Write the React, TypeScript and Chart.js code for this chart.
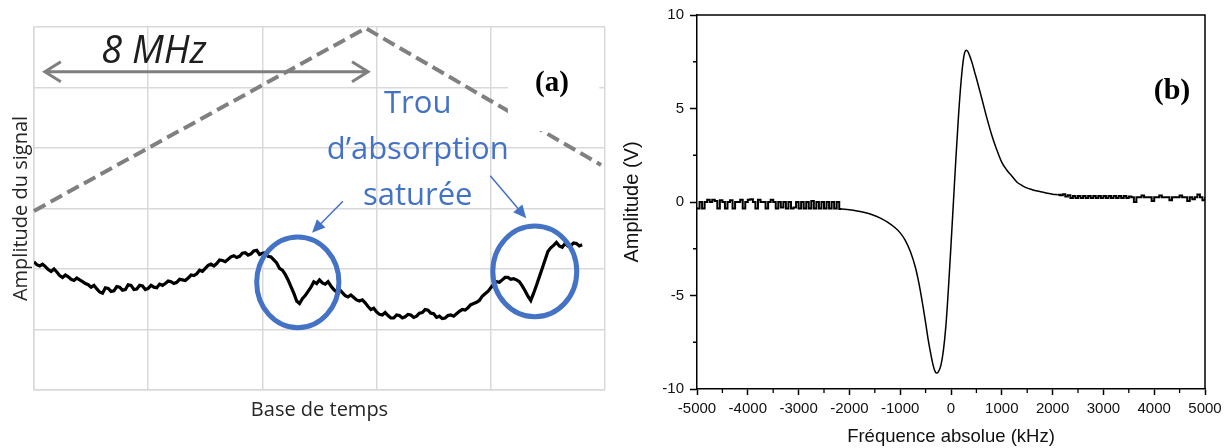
import React, { useEffect, useRef } from "react";
import { Chart, registerables } from "chart.js";

Chart.register(...registerables);

// ================= Panel (a) : oscilloscope trace (Excel style) =================
const aXRange = [0, 10];
const aYRange = [0, 6];
const aXStep = 2;
const aYStep = 1;

// noisy detected signal (time base units, amplitude units)
const aSignal: [number, number][] = [
  [0.0, 2.12], [0.05, 2.07], [0.1, 2.05], [0.15, 2.08], [0.2, 2.04], [0.25, 1.99], [0.3, 1.96],
  [0.35, 2.0], [0.4, 1.95], [0.45, 1.89], [0.5, 1.86], [0.55, 1.9], [0.6, 1.87], [0.65, 1.83],
  [0.7, 1.81], [0.75, 1.85], [0.8, 1.82], [0.85, 1.79], [0.9, 1.76], [0.95, 1.74], [1.0, 1.7],
  [1.05, 1.73], [1.1, 1.67], [1.15, 1.62], [1.2, 1.6], [1.25, 1.69], [1.3, 1.68], [1.35, 1.63],
  [1.4, 1.64], [1.45, 1.71], [1.5, 1.7], [1.55, 1.65], [1.6, 1.66], [1.65, 1.74], [1.7, 1.73],
  [1.75, 1.66], [1.8, 1.67], [1.85, 1.73], [1.9, 1.72], [1.95, 1.66], [2.0, 1.68], [2.05, 1.73],
  [2.1, 1.7], [2.15, 1.69], [2.2, 1.75], [2.25, 1.73], [2.3, 1.76], [2.35, 1.8], [2.4, 1.79],
  [2.45, 1.76], [2.5, 1.78], [2.55, 1.83], [2.6, 1.82], [2.65, 1.81], [2.7, 1.85], [2.75, 1.9],
  [2.8, 1.89], [2.85, 1.92], [2.9, 1.98], [2.95, 1.96], [3.0, 2.01], [3.05, 2.06], [3.1, 2.08],
  [3.15, 2.05], [3.2, 2.09], [3.25, 2.15], [3.3, 2.14], [3.35, 2.12], [3.4, 2.16], [3.45, 2.2],
  [3.5, 2.22], [3.55, 2.19], [3.6, 2.21], [3.65, 2.26], [3.7, 2.27], [3.75, 2.23], [3.8, 2.25],
  [3.85, 2.3], [3.9, 2.31], [3.95, 2.24], [4.0, 2.26], [4.05, 2.27], [4.1, 2.21], [4.15, 2.2],
  [4.2, 2.15], [4.25, 2.1], [4.3, 2.01], [4.35, 1.98], [4.4, 1.91], [4.45, 1.82], [4.5, 1.71],
  [4.55, 1.6], [4.6, 1.47], [4.65, 1.43], [4.7, 1.51], [4.75, 1.56], [4.8, 1.63], [4.85, 1.7],
  [4.9, 1.79], [4.95, 1.76], [5.0, 1.82], [5.05, 1.77], [5.1, 1.75], [5.15, 1.79], [5.2, 1.72],
  [5.25, 1.66], [5.3, 1.62], [5.35, 1.66], [5.4, 1.61], [5.45, 1.56], [5.5, 1.54], [5.55, 1.57],
  [5.6, 1.53], [5.65, 1.49], [5.7, 1.47], [5.75, 1.49], [5.8, 1.44], [5.85, 1.38], [5.9, 1.33],
  [5.95, 1.35], [6.0, 1.29], [6.05, 1.25], [6.1, 1.24], [6.15, 1.28], [6.2, 1.23], [6.25, 1.19],
  [6.3, 1.19], [6.35, 1.24], [6.4, 1.23], [6.45, 1.19], [6.5, 1.21], [6.55, 1.25], [6.6, 1.24],
  [6.65, 1.2], [6.7, 1.22], [6.75, 1.27], [6.8, 1.28], [6.85, 1.33], [6.9, 1.32], [6.95, 1.27],
  [7.0, 1.26], [7.05, 1.2], [7.1, 1.22], [7.15, 1.18], [7.2, 1.19], [7.25, 1.23], [7.3, 1.24],
  [7.35, 1.22], [7.4, 1.26], [7.45, 1.3], [7.5, 1.33], [7.55, 1.32], [7.6, 1.36], [7.65, 1.41],
  [7.7, 1.43], [7.75, 1.45], [7.8, 1.48], [7.85, 1.55], [7.9, 1.59], [7.95, 1.63], [8.0, 1.69],
  [8.05, 1.75], [8.1, 1.79], [8.15, 1.78], [8.2, 1.82], [8.25, 1.86], [8.3, 1.86], [8.35, 1.83],
  [8.4, 1.84], [8.45, 1.82], [8.5, 1.79], [8.55, 1.72], [8.6, 1.64], [8.65, 1.55], [8.7, 1.48],
  [8.75, 1.6], [8.8, 1.73], [8.85, 1.87], [8.9, 2.01], [8.95, 2.15], [9.0, 2.29], [9.05, 2.35],
  [9.1, 2.39], [9.15, 2.44], [9.2, 2.38], [9.25, 2.36], [9.3, 2.42], [9.35, 2.38], [9.4, 2.39],
  [9.45, 2.43], [9.5, 2.42], [9.55, 2.38], [9.6, 2.4],
];

// triangular frequency ramp (dashed grey)
const aRamp: [number, number][] = [[0, 2.96], [5.81, 5.98], [9.93, 3.72]];

// annotations (data units)
const aSpanArrow = [0.19, 5.85, 5.26]; // x from, x to, y
const aSpanLabelPos = [2.1, 5.4];
const aSpanLabel = "8 MHz";
const aHoleLabel = ["Trou", "d\u2019absorption", "saturée"];
const aHoleLabelPos = [6.72, 4.58, 0.76]; // x, first baseline, line step
const aHoleArrows: [number, number, number, number][] = [
  [5.41, 3.12, 4.87, 2.6],
  [7.99, 3.54, 8.62, 2.84],
];
const aHoleCircles: [number, number, number, number][] = [
  [4.62, 1.78, 0.72, 0.75],
  [8.77, 1.96, 0.735, 0.75],
];
const aTagBox = [8.3, 9.9, 4.28, 5.45]; // x0, x1, y0, y1
const aTagPos = [9.07, 5.07];
const aYTitle = "Amplitude du signal";
const aXTitle = "Base de temps";

// ================= Panel (b) : dispersion signal =================
const bXRange = [-5000, 5000];
const bYRange = [-10, 10];
const bXStep = 1000;
const bYStep = 5;
const bMinorX = [-4500, -3500, -2500, -1500, -500, 500, 1500, 2500, 3500, 4500];
const bMinorY = [-7.5, -2.5, 2.5, 7.5];

const bNoiseLeft: [number, number][] = [
  [-5000, -0.35], [-4950, 0.0], [-4900, -0.35], [-4850, 0.0], [-4800, 0.12], [-4750, 0.0],
  [-4700, 0.12], [-4650, 0.05], [-4600, -0.35], [-4550, 0.1], [-4500, 0.0], [-4450, -0.35],
  [-4400, 0.0], [-4350, 0.1], [-4300, -0.35], [-4250, 0.0], [-4200, 0.0], [-4150, 0.12],
  [-4100, -0.35], [-4050, 0.0], [-4000, 0.12], [-3950, 0.15], [-3900, 0.0], [-3850, -0.35],
  [-3800, 0.12], [-3750, 0.0], [-3700, 0.0], [-3650, -0.35], [-3600, 0.0], [-3550, 0.12],
  [-3500, 0.0], [-3450, -0.35], [-3400, 0.0], [-3350, -0.3], [-3300, 0.0], [-3250, -0.35],
  [-3200, 0.0], [-3150, -0.35], [-3100, -0.3], [-3050, 0.0], [-3000, -0.35], [-2950, 0.0],
  [-2900, -0.35], [-2850, 0.0], [-2800, -0.35], [-2750, 0.05], [-2700, -0.35], [-2650, 0.0],
  [-2600, -0.35], [-2550, 0.0], [-2500, -0.35], [-2450, 0.0], [-2400, -0.35], [-2350, 0.0],
  [-2300, -0.35], [-2250, 0.0], [-2200, -0.38], [-2150, -0.38],
];

const bCurve: [number, number][] = [
  [-2150, -0.38], [-2000, -0.42], [-1850, -0.48], [-1700, -0.56], [-1550, -0.68], [-1400, -0.85],
  [-1250, -1.08], [-1100, -1.38], [-1000, -1.65], [-900, -2.05], [-800, -2.65], [-700, -3.5],
  [-650, -4.1], [-600, -4.8], [-550, -5.6], [-500, -6.45], [-450, -7.35], [-400, -8.1],
  [-350, -8.75], [-310, -9.08], [-280, -9.15], [-250, -9.08], [-200, -8.75], [-150, -7.95],
  [-100, -6.6], [-50, -4.6], [0, -2.3], [50, 0.1], [100, 2.5], [150, 4.7], [200, 6.5],
  [240, 7.55], [270, 8.0], [300, 8.12], [330, 8.05], [370, 7.8], [420, 7.4], [460, 7.0],
  [500, 6.62], [600, 5.6], [700, 4.55], [800, 3.6], [900, 2.8], [1000, 2.12], [1100, 1.7],
  [1200, 1.38], [1300, 1.06], [1400, 0.88], [1500, 0.74], [1600, 0.66], [1700, 0.59],
  [1800, 0.53], [1900, 0.47], [2000, 0.42], [2100, 0.39],
];

const bNoiseRight: [number, number][] = [
  [2100, 0.39], [2150, 0.36], [2200, 0.42], [2250, 0.3], [2300, 0.36], [2350, 0.22], [2400, 0.32],
  [2450, 0.22], [2500, 0.32], [2550, 0.22], [2600, 0.32], [2650, 0.22], [2700, 0.32], [2750, 0.22],
  [2800, 0.32], [2850, 0.22], [2900, 0.32], [2950, 0.22], [3000, 0.32], [3050, 0.22], [3100, 0.32],
  [3150, 0.22], [3200, 0.32], [3250, 0.22], [3300, 0.32], [3350, 0.22], [3400, 0.32], [3450, 0.22],
  [3500, 0.3], [3550, 0.25], [3600, 0.0], [3650, 0.25], [3700, 0.25], [3750, 0.35], [3800, 0.25],
  [3850, 0.25], [3900, 0.25], [3950, 0.05], [4000, 0.25], [4050, 0.25], [4100, 0.35], [4150, 0.25],
  [4200, 0.25], [4250, 0.25], [4300, 0.1], [4350, 0.25], [4400, 0.25], [4450, 0.25], [4500, 0.35],
  [4550, 0.25], [4600, 0.25], [4650, 0.05], [4700, 0.25], [4750, 0.15], [4800, 0.25], [4850, 0.4],
  [4900, 0.25], [4950, 0.1], [5000, 0.25],
];
const bTagPos = [4350, 5.9];
const bYTitle = "Amplitude (V)";
const bXTitle = "Fréquence absolue (kHz)";

const toXY = (arr: [number, number][]) => arr.map(([x, y]) => ({ x, y }));

const BLUE = "#4472c4";
const SANS_A = '"Open Sans", "Noto Sans", sans-serif';
const SANS_B = '"Liberation Sans", Arial, sans-serif';

function arrowHead(ctx: CanvasRenderingContext2D, x0: number, y0: number, x1: number, y1: number, len: number, half: number) {
  const a = Math.atan2(y1 - y0, x1 - x0);
  ctx.beginPath();
  ctx.moveTo(x1, y1);
  ctx.lineTo(x1 - len * Math.cos(a) + half * Math.sin(a), y1 - len * Math.sin(a) - half * Math.cos(a));
  ctx.lineTo(x1 - len * Math.cos(a) - half * Math.sin(a), y1 - len * Math.sin(a) + half * Math.cos(a));
  ctx.closePath();
  ctx.fill();
}

const panelADecor = {
  id: "panelADecor",
  afterDatasetsDraw(chart: any) {
    const { ctx, scales } = chart;
    const X = (v: number) => scales.x.getPixelForValue(v);
    const Y = (v: number) => scales.y.getPixelForValue(v);
    ctx.save();
    // white label box for (a)
    ctx.fillStyle = "#ffffff";
    ctx.fillRect(X(aTagBox[0]), Y(aTagBox[3]), X(aTagBox[1]) - X(aTagBox[0]), Y(aTagBox[2]) - Y(aTagBox[3]));
    ctx.fillStyle = "#000";
    ctx.font = 'bold 29px "Liberation Serif", "Times New Roman", serif';
    ctx.textAlign = "center";
    ctx.textBaseline = "middle";
    ctx.fillText("(a)", X(aTagPos[0]), Y(aTagPos[1]));

    // 8 MHz span arrow
    const ax0 = X(aSpanArrow[0]);
    const ax1 = X(aSpanArrow[1]);
    const ay = Y(aSpanArrow[2]);
    ctx.strokeStyle = "#7f7f7f";
    ctx.lineWidth = 3;
    ctx.beginPath();
    ctx.moveTo(ax0 + 1, ay);
    ctx.lineTo(ax1 - 1, ay);
    ctx.moveTo(ax0 + 16, ay - 10);
    ctx.lineTo(ax0, ay);
    ctx.lineTo(ax0 + 16, ay + 10);
    ctx.moveTo(ax1 - 16, ay - 10);
    ctx.lineTo(ax1, ay);
    ctx.lineTo(ax1 - 16, ay + 10);
    ctx.stroke();
    ctx.fillStyle = "#1e1e1e";
    ctx.font = `italic 38px ${SANS_A}`;
    ctx.textBaseline = "alphabetic";
    ctx.fillText(aSpanLabel, X(aSpanLabelPos[0]), Y(aSpanLabelPos[1]));

    // circles around the saturated absorption holes
    ctx.strokeStyle = BLUE;
    ctx.lineWidth = 5;
    for (const [cx, cy, rx, ry] of aHoleCircles) {
      const pcx = X(cx);
      const pcy = Y(cy);
      ctx.beginPath();
      ctx.ellipse(pcx, pcy, Math.abs(X(cx + rx) - pcx), Math.abs(Y(cy + ry) - pcy), 0, 0, Math.PI * 2);
      ctx.stroke();
    }
    // arrows
    ctx.lineWidth = 1.5;
    ctx.fillStyle = BLUE;
    for (const [x0, y0, x1, y1] of aHoleArrows) {
      const p0x = X(x0), p0y = Y(y0), p1x = X(x1), p1y = Y(y1);
      const a = Math.atan2(p1y - p0y, p1x - p0x);
      ctx.beginPath();
      ctx.moveTo(p0x, p0y);
      ctx.lineTo(p1x - 10 * Math.cos(a), p1y - 10 * Math.sin(a));
      ctx.stroke();
      arrowHead(ctx, p0x, p0y, p1x, p1y, 13, 6);
    }
    // label
    ctx.fillStyle = BLUE;
    ctx.font = `31px ${SANS_A}`;
    ctx.textAlign = "center";
    ctx.textBaseline = "alphabetic";
    aHoleLabel.forEach((t, i) => {
      ctx.fillText(t, X(aHoleLabelPos[0]), Y(aHoleLabelPos[1] - i * aHoleLabelPos[2]));
    });
    ctx.restore();
  },
  afterDraw(chart: any) {
    const { ctx, chartArea } = chart;
    ctx.save();
    ctx.fillStyle = "#262626";
    ctx.font = `20px ${SANS_A}`;
    ctx.textAlign = "center";
    ctx.textBaseline = "alphabetic";
    ctx.fillText(aXTitle, (chartArea.left + chartArea.right) / 2, 416);
    ctx.translate(27, (chartArea.top + chartArea.bottom) / 2);
    ctx.rotate(-Math.PI / 2);
    ctx.fillText(aYTitle, 0, 0);
    ctx.restore();
  },
};

const panelBDecor = {
  id: "panelBDecor",
  afterDraw(chart: any) {
    const { ctx, chartArea: ca, scales } = chart;
    ctx.save();
    ctx.strokeStyle = "#000";
    ctx.lineWidth = 1.5;
    ctx.beginPath();
    ctx.moveTo(ca.left, ca.top);
    ctx.lineTo(ca.right, ca.top);
    ctx.lineTo(ca.right, ca.bottom);
    ctx.stroke();
    ctx.lineWidth = 1.3;
    ctx.beginPath();
    for (const v of bMinorX) {
      const px = scales.x.getPixelForValue(v);
      ctx.moveTo(px, ca.bottom);
      ctx.lineTo(px, ca.bottom + 4);
    }
    for (const v of bMinorY) {
      const py = scales.y.getPixelForValue(v);
      ctx.moveTo(ca.left, py);
      ctx.lineTo(ca.left - 4, py);
    }
    ctx.stroke();
    ctx.fillStyle = "#000";
    ctx.font = 'bold 30px "Liberation Serif", "Times New Roman", serif';
    ctx.textAlign = "center";
    ctx.textBaseline = "middle";
    ctx.fillText("(b)", scales.x.getPixelForValue(bTagPos[0]), scales.y.getPixelForValue(bTagPos[1]));
    ctx.restore();
  },
};

function PanelA() {
  const ref = useRef<HTMLCanvasElement>(null);
  useEffect(() => {
    const chart = new Chart(ref.current!, {
      type: "line",
      data: {
        datasets: [
          {
            data: toXY(aRamp),
            borderColor: "#808080",
            borderWidth: 4,
            borderDash: [13, 6],
            pointRadius: 0,
            clip: false as any,
          },
          {
            data: toXY(aSignal),
            borderColor: "#000000",
            borderWidth: 3.2,
            pointRadius: 0,
            tension: 0,
          },
        ],
      },
      options: {
        responsive: false,
        animation: false,
        events: [],
        layout: { padding: { left: 34, top: 27, right: 10, bottom: 58 } },
        plugins: { legend: { display: false }, tooltip: { enabled: false } },
        scales: {
          x: {
            type: "linear",
            min: aXRange[0],
            max: aXRange[1],
            ticks: { display: false, stepSize: aXStep },
            grid: { color: "#d9d9d9", lineWidth: 1.5, drawTicks: false },
            border: { display: true, color: "#d9d9d9", width: 1.5 },
            afterFit: (s: any) => { s.height = 0; },
          },
          y: {
            min: aYRange[0],
            max: aYRange[1],
            ticks: { display: false, stepSize: aYStep },
            grid: { color: "#d9d9d9", lineWidth: 1.5, drawTicks: false },
            border: { display: true, color: "#d9d9d9", width: 1.5 },
            afterFit: (s: any) => { s.width = 0; },
          },
        },
      },
      plugins: [panelADecor],
    } as any);
    return () => chart.destroy();
  }, []);
  return <canvas ref={ref} width={615} height={448} style={{ position: "absolute", left: 0, top: 0, width: 615, height: 448 }} />;
}

function PanelB() {
  const ref = useRef<HTMLCanvasElement>(null);
  useEffect(() => {
    const chart = new Chart(ref.current!, {
      type: "line",
      data: {
        datasets: [
          { data: toXY(bNoiseLeft), borderColor: "#000", borderWidth: 2, pointRadius: 0, stepped: true },
          { data: toXY(bCurve), borderColor: "#000", borderWidth: 1.5, pointRadius: 0, cubicInterpolationMode: "monotone" },
          { data: toXY(bNoiseRight), borderColor: "#000", borderWidth: 2, pointRadius: 0, stepped: true },
        ],
      },
      options: {
        responsive: false,
        animation: false,
        events: [],
        layout: { padding: { left: 0, top: 15, right: 26, bottom: 0 } },
        plugins: { legend: { display: false }, tooltip: { enabled: false } },
        scales: {
          x: {
            type: "linear",
            min: bXRange[0],
            max: bXRange[1],
            ticks: {
              stepSize: bXStep,
              color: "#111",
              padding: 5,
              maxRotation: 0,
              font: { family: SANS_B, size: 15 },
              callback: (v: any) => String(v),
            },
            grid: { drawOnChartArea: false, drawTicks: true, tickLength: 6, tickColor: "#000", tickWidth: 1.5 },
            border: { color: "#000", width: 1.5 },
            title: { display: true, text: bXTitle, color: "#111", font: { family: SANS_B, size: 18.5 }, padding: { top: 0, bottom: 0 } },
            afterFit: (s: any) => { s.height = 59; },
          },
          y: {
            min: bYRange[0],
            max: bYRange[1],
            ticks: {
              stepSize: bYStep,
              color: "#111",
              padding: 6,
              font: { family: SANS_B, size: 15 },
              callback: (v: any) => String(v),
            },
            grid: { drawOnChartArea: false, drawTicks: true, tickLength: 7, tickColor: "#000", tickWidth: 1.5 },
            border: { color: "#000", width: 1.5 },
            title: { display: true, text: bYTitle, color: "#111", font: { family: SANS_B, size: 20 }, padding: { top: 5, bottom: 0 } },
            afterFit: (s: any) => { s.width = 82; },
          },
        },
      },
      plugins: [panelBDecor],
    } as any);
    return () => chart.destroy();
  }, []);
  return <canvas ref={ref} width={616} height={448} style={{ position: "absolute", left: 615, top: 0, width: 616, height: 448 }} />;
}

export default function App() {
  useEffect(() => {
    document.body.style.margin = "0";
  }, []);
  return (
    <div style={{ position: "absolute", left: 0, top: 0, width: 1231, height: 448, background: "#fff", overflow: "hidden" }}>
      <PanelA />
      <PanelB />
    </div>
  );
}
